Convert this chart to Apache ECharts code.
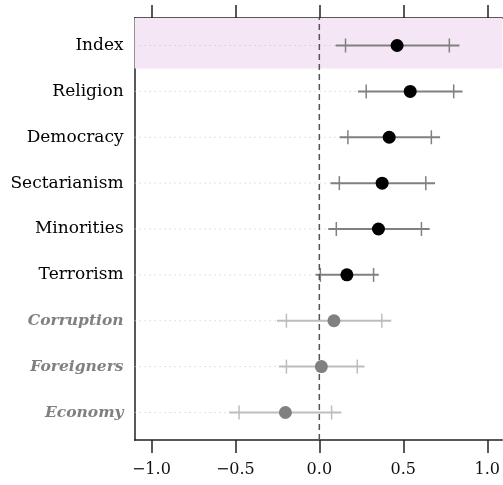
<!DOCTYPE html>
<html>
<head>
<meta charset="utf-8">
<script src="https://cdn.jsdelivr.net/npm/echarts@6/dist/echarts.min.js"></script>
<style>
  html, body { margin: 0; padding: 0; background: #fff; }
  #chart { width: 503px; height: 485px; }
</style>
</head>
<body>
<div id="chart"></div>
<script>
// Issue categories, top to bottom
const categories = ['Index', 'Religion', 'Democracy', 'Sectarianism', 'Minorities',
                    'Terrorism', 'Corruption', 'Foreigners', 'Economy'];
// Point estimates and interval bounds (outer = 95%, inner ticks = 90%)
const estimate = [0.463, 0.541, 0.416, 0.374, 0.352, 0.164, 0.087, 0.012, -0.202];
const lower95  = [0.097, 0.230, 0.121, 0.067, 0.053, -0.022, -0.252, -0.240, -0.537];
const lower90  = [0.156, 0.279, 0.170, 0.119, 0.101, 0.006, -0.196, -0.196, -0.478];
const upper90  = [0.774, 0.800, 0.667, 0.634, 0.608, 0.323, 0.372, 0.226, 0.073];
const upper95  = [0.834, 0.853, 0.719, 0.689, 0.657, 0.354, 0.428, 0.269, 0.131];
// Rows whose effect is not distinguishable from zero are greyed out
const faded    = [false, false, false, false, false, false, true, true, true];
const xTicks   = [-1.0, -0.5, 0.0, 0.5, 1.0];

// the panel runs past the right edge of the canvas, so its right side is clipped
const X_MIN = -1.1, X_MAX = 1.089;
const n = categories.length;
const rowY = i => n - i;

const FONT = 'DejaVu Serif';
const FRAME = { color: '#222', width: 1.5 };

const rows = categories.map((c, i) => [rowY(i), lower95[i], lower90[i], estimate[i], upper90[i], upper95[i], faded[i] ? 1 : 0]);

const chart = echarts.init(document.getElementById('chart'), null, { renderer: 'canvas' });

const fmtTick = v => (v < 0 ? '\u2212' : '') + Math.abs(v).toFixed(1);

chart.setOption({
  animation: false,
  backgroundColor: '#fff',
  grid: { left: 134.6, right: 0, top: 18, bottom: 45, show: false },
  xAxis: [
    {
      type: 'value', min: X_MIN, max: X_MAX, position: 'bottom',
      axisLine: { show: true, onZero: false, lineStyle: FRAME },
      splitLine: { show: false },
      axisTick: { show: true, customValues: xTicks, length: 13, lineStyle: FRAME },
      axisLabel: { customValues: xTicks, formatter: fmtTick, margin: 22,
                   fontFamily: FONT, fontSize: 16, color: '#111' }
    },
    {
      type: 'value', min: X_MIN, max: X_MAX, position: 'top',
      axisLine: { show: true, onZero: false, lineStyle: FRAME },
      splitLine: { show: false },
      axisTick: { show: true, customValues: xTicks, length: 13, lineStyle: FRAME },
      axisLabel: { show: false }
    }
  ],
  yAxis: {
    type: 'value', min: 0.4, max: n + 0.6,
    axisLine: { show: true, onZero: false, lineStyle: FRAME },
    axisTick: { show: false },
    splitLine: { show: false },
    axisLabel: {
      customValues: categories.map((c, i) => rowY(i)),
      margin: 11,
      formatter: v => {
        const i = n - Math.round(v);
        return (faded[i] ? '{f|' : '{s|') + categories[i] + '}';
      },
      rich: {
        s: { fontFamily: FONT, fontSize: 17, color: '#000' },
        f: { fontFamily: FONT, fontSize: 15.5, color: '#808080', fontStyle: 'italic', fontWeight: 'bold' }
      }
    }
  },
  series: [
    {
      // highlighted row band + dotted guide lines from the left edge
      type: 'custom',
      z: 1,
      data: rows,
      renderItem: (params, api) => {
        const y = api.value(0);
        const a = api.coord([X_MIN, y]);
        const b = api.coord([api.value(3), y]);
        return {
          type: 'line',
          shape: { x1: a[0], y1: a[1], x2: b[0], y2: b[1] },
          style: { stroke: '#c4c4c4', lineWidth: 1, lineDash: [1, 4] }
        };
      },
      markArea: {
        silent: true,
        itemStyle: { color: '#f4e6f4' },
        data: [[{ yAxis: n - 0.5, xAxis: X_MIN }, { yAxis: n + 0.6, xAxis: X_MAX }]]
      }
    },
    {
      // interval bars with inner ticks
      type: 'custom',
      z: 3,
      data: rows,
      renderItem: (params, api) => {
        const y = api.value(0);
        const color = api.value(6) ? '#bdbdbd' : '#808080';
        const p0 = api.coord([api.value(1), y]);
        const p1 = api.coord([api.value(5), y]);
        const t0 = api.coord([api.value(2), y]);
        const t1 = api.coord([api.value(4), y]);
        const h = 7;
        return {
          type: 'group',
          children: [
            { type: 'line', shape: { x1: p0[0], y1: p0[1], x2: p1[0], y2: p1[1] },
              style: { stroke: color, lineWidth: 2 } },
            { type: 'line', shape: { x1: t0[0], y1: t0[1] - h, x2: t0[0], y2: t0[1] + h },
              style: { stroke: color, lineWidth: 1.5 } },
            { type: 'line', shape: { x1: t1[0], y1: t1[1] - h, x2: t1[0], y2: t1[1] + h },
              style: { stroke: color, lineWidth: 1.5 } }
          ]
        };
      }
    },
    {
      // zero reference line
      type: 'custom',
      z: 4,
      data: [[0]],
      renderItem: (params, api) => {
        const a = api.coord([api.value(0), 0.4]);
        const b = api.coord([api.value(0), n + 0.6]);
        return {
          type: 'line',
          shape: { x1: a[0], y1: a[1], x2: b[0], y2: b[1] },
          style: { stroke: '#555', lineWidth: 1.5, lineDash: [6, 4] }
        };
      }
    },
    {
      // point estimates
      type: 'scatter',
      z: 5,
      symbolSize: 13,
      data: categories.map((c, i) => ({
        value: [estimate[i], rowY(i)],
        itemStyle: { color: faded[i] ? '#808080' : '#000', opacity: 1 }
      }))
    }
  ]
});
</script>
</body>
</html>
